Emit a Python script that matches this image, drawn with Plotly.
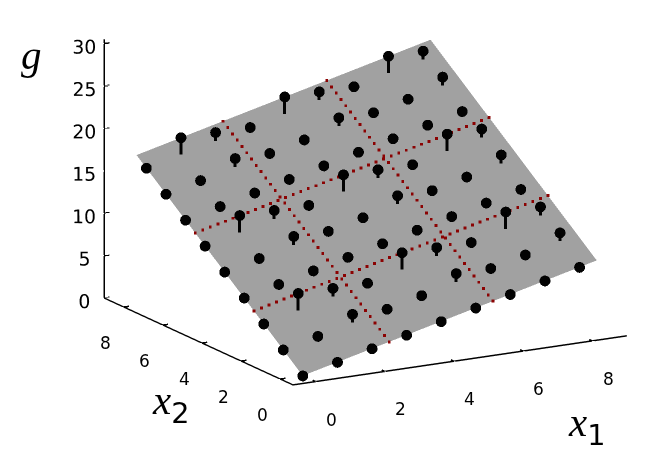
import plotly.graph_objects as go

x1_values = [0, 1, 2, 3, 4, 5, 6, 7, 8]
x2_values = [0, 1, 2, 3, 4, 5, 6, 7, 8]
# observed g per row of x2
g_observed = [
    [0, 1, 2, 3, 4, 5, 6, 7, 8],
    [2, 3, 5, 5, 6, 8, 8, 9, 11],
    [4, 7, 7, 7, 10, 10, 10, 13, 13],
    [6, 7, 8, 9, 10, 11, 12, 13, 14],
    [8, 9, 11, 11, 12, 14, 14, 15, 17],
    [10, 13, 13, 13, 16, 16, 16, 19, 19],
    [12, 13, 14, 15, 16, 17, 18, 19, 20],
    [14, 15, 17, 17, 18, 20, 20, 21, 23],
    [16, 19, 19, 19, 22, 22, 22, 25, 25],
]
# fitted g on the plane per row of x2
g_plane = [
    [0, 1, 2, 3, 4, 5, 6, 7, 8],
    [2, 3, 4, 5, 6, 7, 8, 9, 10],
    [4, 5, 6, 7, 8, 9, 10, 11, 12],
    [6, 7, 8, 9, 10, 11, 12, 13, 14],
    [8, 9, 10, 11, 12, 13, 14, 15, 16],
    [10, 11, 12, 13, 14, 15, 16, 17, 18],
    [12, 13, 14, 15, 16, 17, 18, 19, 20],
    [14, 15, 16, 17, 18, 19, 20, 21, 22],
    [16, 17, 18, 19, 20, 21, 22, 23, 24],
]
plane_x1 = [0, 8.5]
plane_x2 = [0, 8.5]
plane_g = [[0, 8.5], [17, 25.5]]
cut_a = [2.5, 5.5]
dot_x1_cut_count = 36
dot_x2_cut_count = 40
span = 8.5
x_ticks = [0, 2, 4, 6, 8]
g_ticks = [0, 5, 10, 15, 20, 25, 30]
x_range = [-0.65, 9]
g_range = [0, 30.5]

GRAY = "#a0a0a0"
RED = "#8b0000"
OP = 0.99

fig = go.Figure()
fig.add_trace(go.Surface(
    x=plane_x1, y=plane_x2, z=plane_g, opacity=OP,
    colorscale=[[0, GRAY], [1, GRAY]], showscale=False, hoverinfo="skip",
    lighting=dict(ambient=1, diffuse=0, specular=0, roughness=1, fresnel=0),
))
dx, dy, dz = [], [], []
for a in cut_a:
    for k in range(dot_x1_cut_count):
        t = span * k / (dot_x1_cut_count - 1)
        dx.append(a); dy.append(t); dz.append(a + 2 * t)
    for k in range(dot_x2_cut_count):
        t = span * k / (dot_x2_cut_count - 1)
        dx.append(t); dy.append(a); dz.append(t + 2 * a)
fig.add_trace(go.Scatter3d(x=dx, y=dy, z=dz, mode="markers",
                           marker=dict(color=RED, size=1.5, symbol="square", opacity=OP, line=dict(width=0)),
                           hoverinfo="skip"))

px, py, pz, sx, sy, sz = [], [], [], [], [], []
for j, b in enumerate(x2_values):
    for i, a in enumerate(x1_values):
        px.append(a); py.append(b); pz.append(g_observed[j][i])
        if g_observed[j][i] != g_plane[j][i]:
            sx += [a, a, None]; sy += [b, b, None]
            sz += [g_plane[j][i], g_observed[j][i], None]
fig.add_trace(go.Scatter3d(x=sx, y=sy, z=sz, mode="lines", opacity=OP,
                           line=dict(color="black", width=6), hoverinfo="skip"))
fig.add_trace(go.Scatter3d(x=px, y=py, z=pz, mode="markers",
                           marker=dict(color="black", size=6.3, opacity=OP, line=dict(width=0)), hoverinfo="skip"))

# short cross ticks on the three axis lines
tx, ty, tz = [], [], []
lo, hi = x_range
for v in x_ticks:
    tx += [v, v, None]; ty += [lo - 0.15, lo + 0.15, None]; tz += [0, 0, None]
    tx += [lo - 0.15, lo + 0.15, None]; ty += [v, v, None]; tz += [0, 0, None]
for v in g_ticks:
    tx += [lo - 0.15, lo + 0.15, None]; ty += [hi, hi, None]; tz += [v, v, None]
fig.add_trace(go.Scatter3d(x=tx, y=ty, z=tz, mode="lines", opacity=OP,
                           line=dict(color="black", width=3), hoverinfo="skip"))

TICK_FONT = dict(family="DejaVu Sans", size=15, color="black")
LABEL_FONT = dict(family="DejaVu Sans", size=17, color="black")

def axis(rng, vals, labels, ticklen):
    return dict(
        range=rng, tickvals=vals, ticktext=[str(v) for v in vals], tickangle=0,
        showticklabels=labels,
        title=dict(text=""), showgrid=False, zeroline=False, showbackground=False,
        showline=True, linecolor="black", linewidth=3, ticks="outside", ticklen=ticklen,
        tickwidth=1, tickcolor="rgba(255,255,255,0)", showspikes=False,
        tickfont=TICK_FONT,
    )

def tick_label(x, y, v, xshift, yshift):
    return dict(x=x, y=y, z=0, text=str(v), showarrow=False, xshift=xshift, yshift=yshift,
                xanchor="center", yanchor="middle", font=LABEL_FONT)

scene_labels = [tick_label(v, lo, v, 16, -38) for v in x_ticks]
scene_labels += [tick_label(lo, v, v, -18, -36) for v in x_ticks]

d = 5
cx, cy, cz = -0.124, 0.006, -0.212
TITLE_FONT = dict(family="Liberation Serif", size=41, color="black")
SUB = "<sub><span style=\"font-family:DejaVu Sans\">%s</span></sub>"
def title(text, x, y):
    return dict(text=text, x=x / 664, y=1 - y / 460, xref="paper", yref="paper", showarrow=False,
                xanchor="center", yanchor="middle", font=TITLE_FONT)
fig.update_layout(
    width=664, height=460, margin=dict(l=0, r=0, t=0, b=0), showlegend=False,
    paper_bgcolor="white",
    scene=dict(
        domain=dict(x=[0, 1], y=[0, 1]),
        xaxis=axis(x_range, x_ticks, False, 5),
        yaxis=axis(x_range, x_ticks, False, 5),
        zaxis=axis(g_range, g_ticks, True, 24),
        annotations=scene_labels,
        aspectmode="manual", aspectratio=dict(x=1.667, y=1.667, z=1.165),
        camera=dict(
            projection=dict(type="orthographic"),
            center=dict(x=cx, y=cy, z=cz),
            eye=dict(x=cx - 0.475 * d, y=cy - 0.840 * d, z=cz + 0.26 * d),
            up=dict(x=0, y=0, z=1),
        ),
    ),
    annotations=[
        title("<i>g</i>", 23, 47),
        title("<i>x</i>" + SUB % "2", 162, 395),
        title("<i>x</i>" + SUB % "1", 578, 417),
    ],
)
fig.write_html("out.html")
